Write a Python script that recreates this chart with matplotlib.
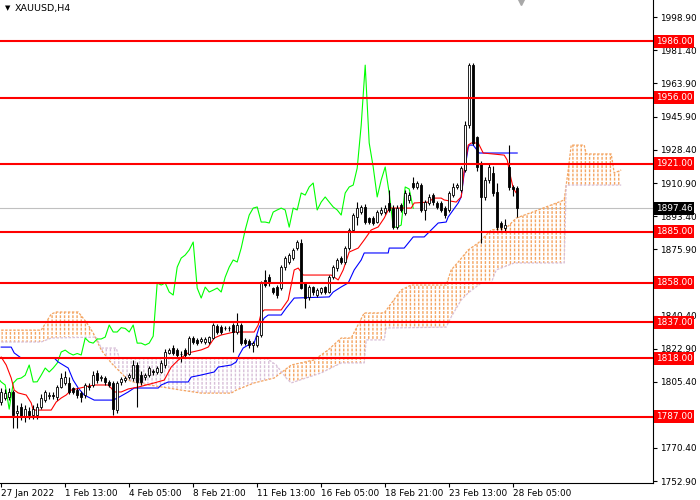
import numpy as np
import matplotlib.pyplot as plt
from matplotlib.patches import Polygon
from matplotlib.transforms import blended_transform_factory

plt.rcParams['font.family'] = ['DejaVu Sans']
plt.rcParams['hatch.linewidth'] = 1.0

# XAUUSD H4 candles, bar 0 = 27 Jan 2022 21:00
opens = [
    1795, 1797, 1797.4, 1800, 1789, 1792, 1787, 1790, 1788, 1788,
    1792, 1796, 1798, 1798.5, 1797.5, 1803, 1805, 1805, 1802, 1801,
    1799.5, 1798.5, 1803.5, 1803.8, 1810, 1807.5, 1807.5, 1805.4, 1804.8, 1790.5,
    1805.4, 1806.5, 1808, 1807.5, 1814.4, 1809, 1808, 1809, 1811, 1810.7,
    1810.7, 1814.4, 1821, 1823.4, 1822.3, 1820, 1822.3, 1820.5, 1828.7, 1827.6,
    1827.1, 1826.6, 1826.6, 1828.7, 1835.1, 1834.5, 1834, 1834, 1835.6, 1831.9,
    1835.6, 1827.6, 1827.1, 1825, 1825, 1830.3, 1859.5, 1861, 1855.2, 1855.7,
    1855.2, 1866.3, 1869, 1871.1, 1876.4, 1879.1, 1857.9, 1850.4, 1855.7, 1851.5,
    1853.1, 1855.7, 1853.1, 1861, 1865.8, 1871.1, 1869, 1876.4, 1886, 1892.9,
    1895.5, 1898.2, 1892.3, 1892.3, 1890.2, 1895, 1895.5, 1900.3, 1897.6, 1887.5,
    1899.2, 1895, 1901.9, 1910.9, 1908.8, 1909.8, 1896.6, 1900.3, 1904.5, 1900.3,
    1900.3, 1897.6, 1896.6, 1904.5, 1908.8, 1907.2, 1917.8, 1941.6, 1973.4, 1935.3,
    1921.5, 1903.5, 1912.5, 1916, 1906, 1889.7, 1887, 1919.4, 1908.8, 1908.3,
]
highs = [
    1802, 1801.5, 1802, 1801, 1793, 1794, 1793, 1792, 1793, 1794,
    1799, 1801, 1800, 1800, 1804, 1810, 1811, 1808, 1803, 1802,
    1800.5, 1805, 1805, 1811, 1812, 1809, 1808.5, 1806.5, 1806, 1806,
    1808, 1808.5, 1810, 1817, 1816, 1811, 1810, 1814, 1812.5, 1814,
    1817, 1823, 1823.5, 1825, 1823.5, 1822, 1823.5, 1830, 1830, 1828.5,
    1829, 1829.5, 1830, 1836.5, 1836, 1835.5, 1835, 1835, 1836.5, 1842,
    1836.5, 1828.5, 1828, 1827, 1830.5, 1859, 1864.8, 1862.5, 1856, 1857,
    1867.5, 1872, 1874, 1876.5, 1880.5, 1881, 1858.5, 1857, 1856.5, 1855,
    1856, 1856.5, 1862, 1867.5, 1871, 1872, 1877.5, 1887, 1895, 1900.8,
    1899.5, 1900, 1893, 1893.5, 1896.5, 1898, 1899, 1907.2, 1899, 1899,
    1900.5, 1907, 1906, 1914.1, 1912, 1911, 1902, 1905, 1905.5, 1901.5,
    1901.5, 1898.5, 1906.5, 1910.9, 1911, 1920, 1944, 1974.5, 1974.5, 1936,
    1922.5, 1914, 1921.5, 1920, 1911, 1891, 1892, 1931, 1910, 1909.5,
]
lows = [
    1793, 1796, 1796, 1781, 1781, 1785, 1784, 1786, 1786, 1786,
    1791, 1795, 1796.5, 1796.5, 1796, 1802, 1804, 1799, 1799, 1797,
    1794.8, 1797, 1801, 1803, 1805, 1806, 1804, 1802.5, 1788, 1789,
    1804, 1805.5, 1807, 1806, 1792, 1804, 1806.5, 1808, 1809, 1809.5,
    1810, 1813, 1820, 1819.5, 1818, 1816, 1818.5, 1819.5, 1825.5, 1825,
    1826, 1825.5, 1825.5, 1828, 1831, 1831, 1833, 1832.5, 1821.3, 1831,
    1825, 1825, 1823.5, 1821.3, 1824, 1829.5, 1855.5, 1856.5, 1852, 1850,
    1854, 1865, 1868, 1870, 1875.5, 1854.5, 1844.6, 1849, 1851.5, 1850.5,
    1852, 1852, 1852.5, 1860, 1864.5, 1868, 1868, 1875.5, 1885, 1888.6,
    1894.5, 1889, 1889, 1888.5, 1889.5, 1894, 1894.5, 1895.5, 1886.5, 1886.5,
    1895.5, 1894, 1900.5, 1907.5, 1907.5, 1895.5, 1891.3, 1899, 1899.5, 1897,
    1895.5, 1892.5, 1895.5, 1903.5, 1907.5, 1906, 1916.5, 1940, 1931, 1917,
    1879.1, 1902, 1911, 1904, 1886, 1886, 1885, 1907, 1904, 1892.9,
]
closes = [
    1800, 1799.5, 1800.1, 1788, 1790, 1787, 1791, 1788, 1791, 1792,
    1797, 1800, 1798.5, 1798, 1803, 1807.5, 1808, 1800, 1800, 1798.5,
    1797.4, 1803.8, 1802.7, 1809, 1806.5, 1808, 1805.4, 1803.8, 1791, 1804.8,
    1807, 1807.5, 1809, 1814.4, 1805.4, 1805.5, 1809, 1812.8, 1810.7, 1812.8,
    1815.4, 1821.3, 1822.3, 1820.7, 1819.7, 1820.5, 1819.7, 1828.7, 1826.6, 1826.0,
    1828.2, 1828.2, 1829.2, 1835.6, 1831.9, 1831.9, 1834.2, 1833.8, 1831.9, 1835.6,
    1826, 1826, 1825, 1826, 1829.7, 1857.9, 1856.8, 1857.9, 1853.1, 1851.5,
    1866.3, 1871.1, 1872.7, 1875.4, 1879.6, 1855.2, 1849.9, 1855.7, 1853.1, 1854.1,
    1855.2, 1853.1, 1861, 1866.3, 1870.1, 1869, 1876.4, 1886, 1893.9, 1897.6,
    1898.2, 1890.2, 1890.2, 1889.7, 1895.5, 1896.6, 1897.6, 1896.6, 1887.5, 1897.6,
    1896.6, 1905.6, 1904.5, 1908.8, 1910.9, 1896.6, 1900.8, 1903.5, 1900.8, 1898.2,
    1896.6, 1893.9, 1905.6, 1908.8, 1909.8, 1918.8, 1941.6, 1973.4, 1932.1, 1919.4,
    1903.5, 1912.5, 1919.4, 1905.6, 1887.5, 1887.5, 1888.6, 1908.8, 1907.7, 1897.5,
]

# ichimoku lines (bar position, price)
tenkan_bar = [0, 1.25, 2.5, 3.25, 4.25, 6.25, 7.5, 8, 12.5, 13.75, 15, 16.25, 17.5,
              20.75, 23.25, 26.75, 27.5, 28.25, 30, 31.75, 34.25, 38.25, 40.75,
              42.5, 44.25, 46.75, 50, 51.75, 53.25, 55, 58.25, 63.25, 64.25, 65,
              65.75, 70, 71.75, 73.25, 74.25, 75.5, 82.5, 84.25, 85.5, 87, 89.25,
              90.75, 92.5, 94.25, 95.75, 97, 102.5, 103.25, 107, 108, 110, 110.75,
              113.75, 115, 115.75, 116.75, 117.5, 119.25, 120.5, 125.75, 126.5,
              127.25, 128, 128.75, 129]
tenkan_val = [1818.6, 1814.4, 1807.5, 1801.1, 1799.6, 1798.5, 1794.3, 1790.5, 1790.5,
              1794.8, 1796.9, 1798.5, 1801.1, 1802.7, 1803.8, 1803.8, 1802.2, 1800.1,
              1800.1, 1801.7, 1802.7, 1804.9, 1806.4, 1813.3, 1817.0, 1820.8, 1822.4,
              1823.9, 1828.7, 1830.3, 1831.9, 1831.9, 1835.6, 1842.0, 1843.6, 1843.6,
              1848.9, 1864.8, 1865.8, 1862.1, 1862.1, 1859.5, 1864.8, 1874.3, 1876.4,
              1880.7, 1886.0, 1887.6, 1892.3, 1897.6, 1897.6, 1900.3, 1900.8, 1902.9,
              1902.9, 1901.9, 1900.8, 1903.5, 1917.8, 1931.0, 1932.1, 1932.1, 1926.8,
              1925.7, 1923.1, 1915.1, 1908.2, 1905.6, 1907.5]

kijun_bar = [0, 2.5, 3.25, 5, 13.25, 14.25, 16.75, 18, 19.25, 20.75, 23.25, 28, 29.5,
             31.75, 33.25, 39.25, 40, 41.75, 46.75, 47.5, 50, 53.25, 54.25, 57.5,
             58.75, 59.5, 60.5, 61.75, 63.25, 64.5, 65.75, 66.75, 70, 71.25, 73.25,
             82, 83, 85, 86.75, 88.25, 90, 90.75, 96.75, 97, 100.75, 103, 105.75,
             107.5, 109.25, 111.25, 111.75, 113, 114.25, 115, 115.75, 116.75, 117,
             118, 119.5, 129]
kijun_val = [1823.9, 1823.9, 1820.8, 1818.1, 1818.1, 1816.0, 1812.8, 1806.4, 1802.2,
             1798.5, 1795.8, 1795.8, 1797.4, 1800.1, 1802.2, 1802.2, 1803.8, 1805.4,
             1805.4, 1808.0, 1809.1, 1810.7, 1813.3, 1814.4, 1816.0, 1819.7, 1823.4,
             1825.0, 1826.1, 1834.5, 1839.3, 1840.9, 1840.9, 1844.6, 1849.9, 1850.5,
             1853.1, 1855.8, 1857.9, 1864.8, 1870.1, 1873.8, 1873.8, 1876.4, 1876.4,
             1882.3, 1882.3, 1886.0, 1889.7, 1890.2, 1892.9, 1896.6, 1900.3, 1903.5,
             1916.2, 1929.5, 1931.0, 1931.0, 1926.8, 1926.8]

span_a_bar = [0, 10, 12.5, 13.75, 19.25, 21.25, 23, 25, 27.5, 31.75, 33.75, 45, 50,
              57.5, 58.75, 63.25, 68.25, 72.5, 78.25, 81.75, 85, 87.5, 90.75, 95.75,
              100, 102.5, 111.25, 112.5, 114.25, 116.75, 119.25, 122.5, 126.25,
              128.75, 134.25, 140.75, 141.75, 142.5, 145.75, 146.25, 152.5, 153.25, 155]
span_a_val = [1832.9, 1832.9, 1841.4, 1842.5, 1842.5, 1837.2, 1831.4, 1822.4, 1815.5,
              1806.4, 1804.9, 1801.1, 1799.5, 1799.5, 1801.1, 1804.9, 1807.5, 1814.4,
              1817.1, 1822.4, 1828.7, 1828.7, 1842.0, 1842.0, 1854.2, 1856.8, 1856.8,
              1864.8, 1869.0, 1875.4, 1879.1, 1886.0, 1887.0, 1892.3, 1896.6, 1901.9,
              1917.8, 1931.0, 1931.0, 1926.3, 1926.3, 1916.2, 1917.8]

span_b_bar = [0, 10, 12.5, 23.75, 25, 28.75, 29.5, 66.25, 68.75, 71.25, 72.5, 80, 85,
              90.75, 91.25, 95.75, 96.25, 111.25, 112.5, 115, 116.75, 120, 122.5,
              123.75, 128.25, 140.75, 141.25, 155]
span_b_val = [1826.6, 1826.6, 1828.7, 1829.2, 1823.4, 1823.4, 1818.1, 1818.1, 1814.4,
              1807.5, 1804.9, 1810.2, 1815.5, 1815.5, 1827.7, 1827.7, 1834.0, 1834.5,
              1839.9, 1848.9, 1852.6, 1857.9, 1857.9, 1864.8, 1868.5, 1868.5, 1909.8,
              1909.8]

# where the two spans cross
cross_bar = [23.4, 70.0]
cross_val = [1830.2, 1810.5]

levels = [1986, 1956, 1921, 1885, 1858, 1837, 1818, 1787]
last_price = 1897.46

ytick_vals = [1998.9, 1981.4, 1963.9, 1945.9, 1928.4, 1910.9, 1893.4, 1875.9,
              1858.4, 1840.4, 1822.9, 1805.4, 1787.9, 1770.4, 1752.9]
# labels fully covered by the level tags are not shown on the chart
ytick_hidden = [1858.4, 1787.9]
xtick_bars = [0, 16, 32, 48, 64, 80, 96, 112, 128]
xtick_labels = ['27 Jan 2022', '1 Feb 13:00', '4 Feb 05:00', '8 Feb 21:00',
                '11 Feb 13:00', '16 Feb 05:00', '18 Feb 21:00', '23 Feb 13:00',
                '28 Feb 05:00']

ORANGE = '#f4a460'
THISTLE = '#d8bfd8'
FS = 6.4

fig = plt.figure(figsize=(7, 5), dpi=100)
ax = fig.add_axes([0, 17 / 500, 653 / 700, 483 / 500])
ax.set_xlim(-0.3, 162.95)
ax.set_ylim(1751.84, 2007.93)

# cloud
a_bar = np.array(span_a_bar); a_val = np.array(span_a_val)
b_bar = np.array(span_b_bar); b_val = np.array(span_b_val)
c1 = (cross_bar[0], cross_val[0])
c2 = (cross_bar[1], cross_val[1])


def part(bars, vals, lo, hi):
    m = (bars > lo) & (bars < hi)
    return list(zip(bars[m], vals[m]))


regions = [
    (part(a_bar, a_val, -1, c1[0]) + [c1] + part(b_bar, b_val, -1, c1[0])[::-1], ORANGE),
    ([c1] + part(b_bar, b_val, c1[0], c2[0]) + [c2] + part(a_bar, a_val, c1[0], c2[0])[::-1], THISTLE),
    ([c2] + part(a_bar, a_val, c2[0], 200) + part(b_bar, b_val, c2[0], 200)[::-1], ORANGE),
]
for verts, col in regions:
    ax.add_patch(Polygon(verts, closed=True, facecolor='none', edgecolor=col,
                         linewidth=0, hatch='||||', zorder=1))
    # white cross-hatch breaks the columns into dashes
    ax.add_patch(Polygon(verts, closed=True, facecolor='none', edgecolor='white',
                         linewidth=0, hatch='----', zorder=1.1))
ax.plot(span_a_bar, span_a_val, color=ORANGE, lw=0.9, ls=(0, (2, 1.2)), zorder=1.5)
ax.plot(span_b_bar, span_b_val, color=THISTLE, lw=0.9, ls=(0, (2, 1.2)), zorder=1.5)

# current price line
ax.axhline(last_price, color='#c0c0c0', lw=0.8, zorder=0.5)

# ichimoku lines
n = len(closes)
ax.plot(np.arange(n) - 26, closes, color='#00ff00', lw=0.8, zorder=3)
ax.plot(tenkan_bar, tenkan_val, color='#ff0000', lw=0.8, zorder=3.2)
ax.plot(kijun_bar, kijun_val, color='#0000ff', lw=0.8, zorder=3.1)

# candles
bars = np.arange(n)
o = np.array(opens); c = np.array(closes)
ax.vlines(bars, lows, highs, color='black', lw=0.8, zorder=4.9)
body_col = ['white' if cc >= oo else 'black' for oo, cc in zip(o, c)]
ax.bar(bars, c - o, bottom=o, width=0.62, color=body_col, edgecolor='black',
       linewidth=0.6, zorder=5)

# support / resistance lines with price tags
trans = blended_transform_factory(ax.transAxes, ax.transData)
for lvl in levels:
    ax.axhline(lvl, color='#ff0000', lw=1.5, zorder=6)
    ax.text(1.004, lvl, f'{lvl:.2f}', transform=trans, ha='left', va='center',
            color='white', fontsize=FS, clip_on=False, zorder=7,
            bbox=dict(boxstyle='square,pad=0.22', fc='#ff0000', ec='none'))
ax.text(1.004, last_price, f'{last_price:.2f}', transform=trans, ha='left',
        va='center', color='white', fontsize=FS, clip_on=False, zorder=7,
        bbox=dict(boxstyle='square,pad=0.22', fc='black', ec='none'))

# axes styling
for s in ['left', 'top']:
    ax.spines[s].set_visible(False)
for s in ['right', 'bottom']:
    ax.spines[s].set_linewidth(0.8)
ax.yaxis.tick_right()
ax.set_yticks(ytick_vals)
ax.set_yticklabels(['' if v in ytick_hidden else f'{v:.2f}' for v in ytick_vals])
ax.set_xticks(xtick_bars)
ax.set_xticklabels(xtick_labels, ha='left')
ax.tick_params(axis='y', length=3, width=0.8, pad=2, labelsize=FS)
ax.tick_params(axis='x', length=3, width=0.8, pad=1.5, labelsize=FS)

# chart header and shift marker
fig.text(5 / 700, 1 - 8 / 500, '\u25bc', fontsize=5, va='center', ha='left')
fig.text(15 / 700, 1 - 8 / 500, 'XAUUSD,H4', fontsize=6.8, va='center', ha='left')
ax.plot([0.798], [0.996], transform=ax.transAxes, marker='v', ms=5,
        color='#a8a8a8', clip_on=False, zorder=8)

fig.savefig('out.png', dpi=100)
